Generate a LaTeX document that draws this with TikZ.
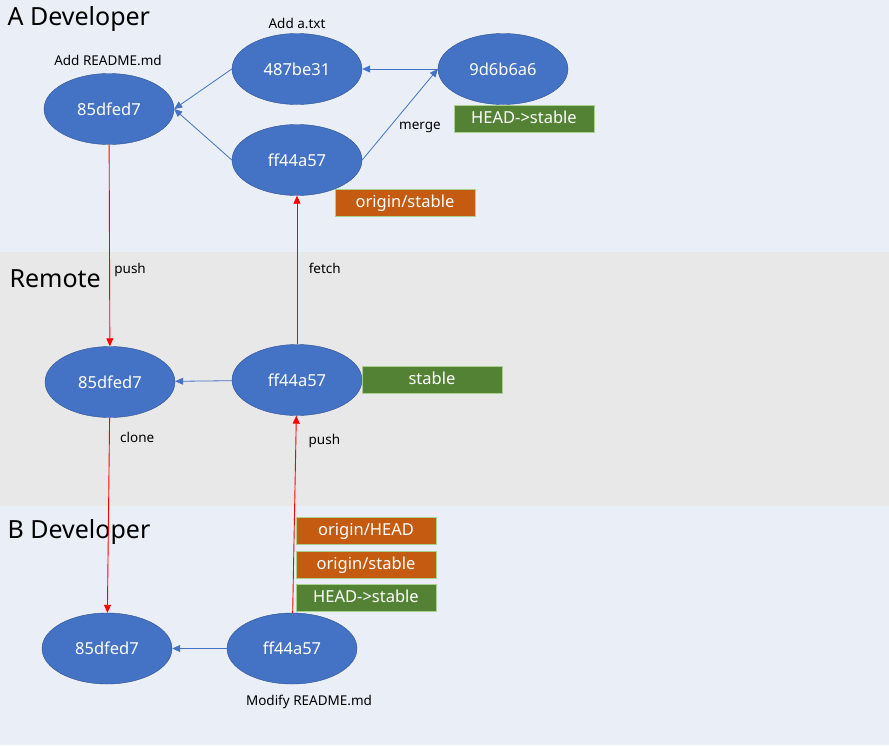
\documentclass[tikz,border=0pt]{standalone}
\usepackage{fontspec}
\setmainfont{Noto Sans}
\usetikzlibrary{shapes, arrows.meta}

\definecolor{commitblue}{HTML}{4472C4}
\definecolor{commitedge}{HTML}{2F528F}
\definecolor{localgreen}{HTML}{548235}
\definecolor{originorange}{HTML}{C55A11}
\definecolor{refedge}{HTML}{A9D18E}
\definecolor{devband}{HTML}{EAEEF7}
\definecolor{remoteband}{HTML}{E8E8E8}

\begin{document}
\begin{tikzpicture}[x=1pt,y=-1pt,>={Triangle[length=8pt,width=7pt]},
    commit/.style={ellipse,draw=commitedge,fill=commitblue,text=white,
      minimum width=130pt,minimum height=71pt,inner sep=0pt,
      font=\fontsize{16.5}{18}\selectfont},
    refbox/.style={rectangle,draw=refedge,line width=0.8pt,text=white,
      minimum width=140pt,minimum height=27pt,inner sep=0pt,
      text height=12pt,text depth=3pt,
      font=\fontsize{16.5}{18}\selectfont},
    local ref/.style={refbox,fill=localgreen},
    origin ref/.style={refbox,fill=originorange},
    title/.style={anchor=west,font=\fontsize{25}{28}\selectfont},
    msg/.style={font=\fontsize{13.5}{15}\selectfont},
    parent/.style={->,draw=commitblue,line width=0.8pt},
    sync/.style={->,draw=red,line width=0.9pt}]

  \useasboundingbox (0,0) rectangle (889,745);
  % background bands
  \fill[devband] (0,0) rectangle (889,252);
  \fill[remoteband] (0,252) rectangle (889,506);
  \fill[devband] (0,506) rectangle (889,745);

  \node[title] (titleA) at (4,19) {A Developer};
  \node[title] (titleR) at (6,279) {Remote};
  \node[title] (titleB) at (4,532) {B Developer};

  % A developer
  \node[commit] (a1) at (109,109) {85dfed7};
  \node[commit] (a2) at (297,69) {487be31};
  \node[commit] (a3) at (297,160) {ff44a57};
  \node[commit] (a4) at (503,69) {9d6b6a6};
  \node[msg] (a1msg) at (108,60) {Add README.md};
  \node[msg] (a2msg) at (297,23) {Add a.txt};
  \node[local ref] (aHead) at (524,118.5) {HEAD->stable};
  \node[origin ref] (aOrigin) at (405,203) {origin/stable};

  % Remote
  \node[commit] (r1) at (110,382) {85dfed7};
  \node[commit] (r2) at (297,380) {ff44a57};
  \node[local ref] (rStable) at (432,379.5) {stable};

  % B developer
  \node[commit] (b1) at (107,648.5) {85dfed7};
  \node[commit] (b2) at (292,648.5) {ff44a57};
  \node[msg] (b2msg) at (309,702) {Modify README.md};
  \node[origin ref] (bOriginHead) at (366,530.5) {origin/HEAD};
  \node[origin ref] (bOrigin) at (366,564.5) {origin/stable};
  \node[local ref] (bHead) at (366,597.5) {HEAD->stable};

  \path[every node/.style={msg,anchor=west}]
   (a2.west) edge[parent] (a1.east)
   (a3.west) edge[parent] (a1.east)
   (a4.west) edge[parent] (a2.east)
   (a3.east) edge[parent] node[pos=0.36,xshift=6pt] {merge} (a4.west)
   (a1) edge[sync] node[pos=0.62,xshift=1pt] {push} (r1)
   (r2) edge[sync] node[pos=0.51,xshift=8pt] {fetch} (a3)
   (r2) edge[parent] (r1)
   (r1) edge[sync] node[pos=0.1,xshift=7pt] {clone} (b1)
   (b2) edge[sync] node[pos=0.87,xshift=9pt] {push} (r2)
   (b2) edge[parent] (b1);
\end{tikzpicture}
\end{document}
